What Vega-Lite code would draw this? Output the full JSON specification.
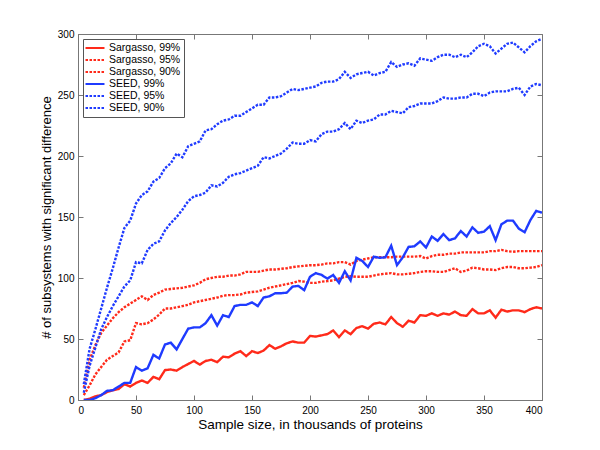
{
  "$schema": "https://vega.github.io/schema/vega-lite/v6.json",
  "width": 464,
  "height": 366,
  "autosize": "none",
  "padding": {"left": 78, "top": 34, "right": 58, "bottom": 50},
  "background": "white",
  "config": {
    "font": "Liberation Sans",
    "view": {"stroke": "#777", "strokeWidth": 1},
    "axis": {
      "domainColor": "#777",
      "tickColor": "#777",
      "grid": false,
      "labelFont": "Liberation Sans",
      "labelFontSize": 10,
      "labelColor": "#000",
      "titleFont": "Liberation Sans",
      "titleFontSize": 13.5,
      "titleFontWeight": "normal",
      "titleColor": "#000",
      "tickSize": -5
    }
  },
  "data": {
    "values": [
      {"x":5,"s99":0,"s95":4,"s90":10,"e99":0,"e95":6,"e90":13},
      {"x":10,"s99":1,"s95":12,"s90":33,"e99":0,"e95":28,"e90":42},
      {"x":15,"s99":3,"s95":21,"s90":45,"e99":1.5,"e95":43,"e90":58},
      {"x":20,"s99":4,"s95":27,"s90":55,"e99":4,"e95":58,"e90":75},
      {"x":25,"s99":6.5,"s95":33,"s90":61,"e99":7.5,"e95":68,"e90":92},
      {"x":30,"s99":8,"s95":36,"s90":67,"e99":8,"e95":77,"e90":108},
      {"x":35,"s99":9,"s95":39,"s90":72,"e99":11,"e95":85,"e90":125},
      {"x":40,"s99":13,"s95":48,"s90":76,"e99":14,"e95":93,"e90":141},
      {"x":45,"s99":11,"s95":49,"s90":79,"e99":14,"e95":98,"e90":147},
      {"x":50,"s99":14,"s95":63,"s90":82,"e99":27,"e95":113,"e90":161},
      {"x":55,"s99":16,"s95":62,"s90":85,"e99":24,"e95":112,"e90":168},
      {"x":60,"s99":14,"s95":63,"s90":82,"e99":26,"e95":123,"e90":171},
      {"x":65,"s99":19,"s95":66,"s90":86,"e99":37,"e95":128,"e90":179},
      {"x":70,"s99":17,"s95":70,"s90":88,"e99":34,"e95":130,"e90":182},
      {"x":75,"s99":24.5,"s95":75,"s90":90.5,"e99":45.5,"e95":139,"e90":190},
      {"x":80,"s99":25,"s95":75,"s90":91,"e99":47,"e95":145,"e90":194},
      {"x":85,"s99":24,"s95":76,"s90":91.5,"e99":41.5,"e95":150,"e90":202},
      {"x":90,"s99":27,"s95":77,"s90":92,"e99":50,"e95":156,"e90":199},
      {"x":95,"s99":29.5,"s95":78,"s90":93,"e99":58.5,"e95":163,"e90":208},
      {"x":100,"s99":32,"s95":80,"s90":94,"e99":59.5,"e95":167,"e90":210},
      {"x":105,"s99":29,"s95":81,"s90":96,"e99":59.5,"e95":168,"e90":212},
      {"x":110,"s99":32,"s95":82,"s90":99,"e99":63,"e95":170,"e90":221},
      {"x":115,"s99":33,"s95":83,"s90":100,"e99":69.5,"e95":176,"e90":222},
      {"x":120,"s99":31,"s95":84,"s90":101,"e99":61,"e95":175,"e90":226},
      {"x":125,"s99":35.5,"s95":85.5,"s90":101,"e99":69.5,"e95":178,"e90":229},
      {"x":130,"s99":35,"s95":86,"s90":102,"e99":68,"e95":183,"e90":230},
      {"x":135,"s99":38,"s95":86,"s90":102,"e99":77,"e95":185,"e90":233},
      {"x":140,"s99":40,"s95":86.5,"s90":103,"e99":78,"e95":186,"e90":233},
      {"x":145,"s99":36,"s95":88,"s90":105,"e99":78,"e95":188,"e90":236},
      {"x":150,"s99":40,"s95":88.5,"s90":105,"e99":80,"e95":190,"e90":239},
      {"x":155,"s99":38.5,"s95":89,"s90":105,"e99":77,"e95":192,"e90":242},
      {"x":160,"s99":40.5,"s95":90.5,"s90":106,"e99":84,"e95":199,"e90":242},
      {"x":165,"s99":45,"s95":92,"s90":107,"e99":85,"e95":198,"e90":248},
      {"x":170,"s99":42,"s95":93,"s90":107,"e99":87.5,"e95":200,"e90":248},
      {"x":175,"s99":44,"s95":94,"s90":107.5,"e99":87.5,"e95":202,"e90":249},
      {"x":180,"s99":46.5,"s95":95,"s90":108,"e99":88,"e95":206,"e90":252},
      {"x":185,"s99":48,"s95":96,"s90":109,"e99":93,"e95":211,"e90":255},
      {"x":190,"s99":47,"s95":97.5,"s90":109.5,"e99":93.5,"e95":210,"e90":254},
      {"x":195,"s99":47,"s95":97,"s90":110,"e99":90,"e95":210,"e90":255},
      {"x":200,"s99":52.5,"s95":96,"s90":110.5,"e99":101,"e95":213,"e90":256},
      {"x":205,"s99":52,"s95":96,"s90":110.5,"e99":104,"e95":212,"e90":257},
      {"x":210,"s99":53,"s95":97,"s90":111,"e99":102.5,"e95":218,"e90":260},
      {"x":215,"s99":54,"s95":97.5,"s90":112,"e99":99.5,"e95":220,"e90":261},
      {"x":220,"s99":57,"s95":98,"s90":112,"e99":102.5,"e95":220,"e90":261},
      {"x":225,"s99":51.5,"s95":99.5,"s90":113,"e99":96,"e95":222,"e90":263},
      {"x":230,"s99":57,"s95":101,"s90":113,"e99":105.5,"e95":227,"e90":269},
      {"x":235,"s99":54,"s95":101.5,"s90":111,"e99":98,"e95":222,"e90":264},
      {"x":240,"s99":59,"s95":101,"s90":114,"e99":116.5,"e95":229,"e90":267},
      {"x":245,"s99":60.5,"s95":101,"s90":115,"e99":114,"e95":227,"e90":268},
      {"x":250,"s99":58.5,"s95":101,"s90":116,"e99":109,"e95":229,"e90":269},
      {"x":255,"s99":62.5,"s95":102,"s90":117,"e99":117.5,"e95":230,"e90":266},
      {"x":260,"s99":63.5,"s95":103,"s90":117,"e99":116.5,"e95":234,"e90":268},
      {"x":265,"s99":62,"s95":103.5,"s90":117,"e99":117,"e95":234,"e90":269},
      {"x":270,"s99":68,"s95":104,"s90":117,"e99":126.5,"e95":237,"e90":277},
      {"x":275,"s99":63,"s95":103,"s90":117.5,"e99":110.5,"e95":236,"e90":273},
      {"x":280,"s99":60,"s95":103,"s90":117.5,"e99":117,"e95":235,"e90":275},
      {"x":285,"s99":65,"s95":103.5,"s90":117.5,"e99":125.5,"e95":240,"e90":276},
      {"x":290,"s99":63.5,"s95":104,"s90":117.5,"e99":126,"e95":241,"e90":274},
      {"x":295,"s99":69.5,"s95":105,"s90":118,"e99":130,"e95":243,"e90":280},
      {"x":300,"s99":69,"s95":105.5,"s90":116,"e99":125,"e95":243,"e90":279},
      {"x":305,"s99":71,"s95":105.5,"s90":118,"e99":134,"e95":243,"e90":278},
      {"x":310,"s99":69,"s95":105,"s90":119,"e99":130.5,"e95":245,"e90":281},
      {"x":315,"s99":71,"s95":105,"s90":119,"e99":136,"e95":248,"e90":283},
      {"x":320,"s99":70,"s95":106.5,"s90":120,"e99":131,"e95":247,"e90":283},
      {"x":325,"s99":72.5,"s95":108,"s90":120,"e99":132.5,"e95":247,"e90":281},
      {"x":330,"s99":69.5,"s95":105,"s90":121,"e99":138.5,"e95":248,"e90":283},
      {"x":335,"s99":69,"s95":106,"s90":121,"e99":134,"e95":248,"e90":281},
      {"x":340,"s99":74.5,"s95":108.5,"s90":121,"e99":141.5,"e95":251,"e90":285},
      {"x":345,"s99":71,"s95":108,"s90":121,"e99":137,"e95":251,"e90":290},
      {"x":350,"s99":71,"s95":107,"s90":121,"e99":138,"e95":249,"e90":292},
      {"x":355,"s99":73.5,"s95":107,"s90":122,"e99":142.5,"e95":252,"e90":290},
      {"x":360,"s99":67.5,"s95":106.5,"s90":122,"e99":131,"e95":253,"e90":284},
      {"x":365,"s99":74,"s95":108,"s90":123,"e99":144,"e95":253,"e90":288},
      {"x":370,"s99":72.5,"s95":109,"s90":122,"e99":147,"e95":253,"e90":292},
      {"x":375,"s99":73.5,"s95":109,"s90":121.5,"e99":147,"e95":255,"e90":293},
      {"x":380,"s99":73.5,"s95":108,"s90":122,"e99":140.5,"e95":256,"e90":289},
      {"x":385,"s99":72,"s95":108,"s90":122,"e99":137.5,"e95":250,"e90":285},
      {"x":390,"s99":74.5,"s95":108.5,"s90":122,"e99":147.5,"e95":257,"e90":290},
      {"x":395,"s99":76,"s95":109,"s90":122,"e99":155,"e95":259,"e90":294},
      {"x":400,"s99":75,"s95":110.5,"s90":122,"e99":153.5,"e95":258,"e90":296}
    ]
  },
  "transform": [
    {"fold": ["s99", "s95", "s90", "e99", "e95", "e90"], "as": ["key", "y"]},
    {"lookup": "key", "from": {"data": {"values": [
      {"key": "s99", "series": "Sargasso, 99%"},
      {"key": "s95", "series": "Sargasso, 95%"},
      {"key": "s90", "series": "Sargasso, 90%"},
      {"key": "e99", "series": "SEED, 99%"},
      {"key": "e95", "series": "SEED, 95%"},
      {"key": "e90", "series": "SEED, 90%"}
    ]}, "key": "key", "fields": ["series"]}}
  ],
  "layer": [
    {
      "mark": {"type": "line", "strokeWidth": 2.4, "clip": true},
      "encoding": {
        "x": {"field": "x", "type": "quantitative",
          "scale": {"domain": [0, 400], "nice": false},
          "axis": {"orient": "bottom", "values": [0,50,100,150,200,250,300,350,400], "title": "Sample size, in thousands of proteins", "labelPadding": 10, "titlePadding": 2}},
        "y": {"field": "y", "type": "quantitative",
          "scale": {"domain": [0, 300], "nice": false},
          "axis": {"orient": "left", "values": [0,50,100,150,200,250,300], "title": "# of subsystems with significant difference", "titleFontSize": 13, "labelPadding": 9, "titlePadding": 4}},
        "color": {"field": "series", "type": "nominal",
          "scale": {"domain": ["Sargasso, 99%", "Sargasso, 95%", "Sargasso, 90%", "SEED, 99%", "SEED, 95%", "SEED, 90%"],
                    "range": ["#ff2a1a", "#ff2a1a", "#ff2a1a", "#1f3bff", "#1f3bff", "#1f3bff"]},
          "legend": {"title": null, "orient": "top-left", "offset": 5, "padding": 3, "strokeColor": "#555", "fillColor": "white",
                     "symbolType": "M-2,0H2", "symbolSize": 90, "symbolOffset": 3, "symbolStrokeWidth": 2.2, "labelFont": "Liberation Sans",
                     "labelFontSize": 10.5, "labelColor": "#000", "rowPadding": 0, "labelOffset": 8}},
        "strokeDash": {"field": "series", "type": "nominal",
          "scale": {"domain": ["Sargasso, 99%", "Sargasso, 95%", "Sargasso, 90%", "SEED, 99%", "SEED, 95%", "SEED, 90%"],
                    "range": [[1, 0], [2.5, 1.5], [2.5, 1.5], [1, 0], [2.5, 1.5], [2.5, 1.5]]},
          "legend": {"title": null}},
        "order": {"field": "x", "type": "quantitative"}
      }
    },
    {
      "mark": {"type": "point", "opacity": 0},
      "encoding": {
        "x": {"field": "x", "type": "quantitative",
          "axis": {"orient": "top", "values": [0,50,100,150,200,250,300,350,400], "labels": false, "domain": false, "title": null}},
        "y": {"field": "y", "type": "quantitative",
          "axis": {"orient": "right", "values": [0,50,100,150,200,250,300], "labels": false, "domain": false, "title": null}}
      }
    }
  ],
  "resolve": {"axis": {"x": "independent", "y": "independent"}}
}
